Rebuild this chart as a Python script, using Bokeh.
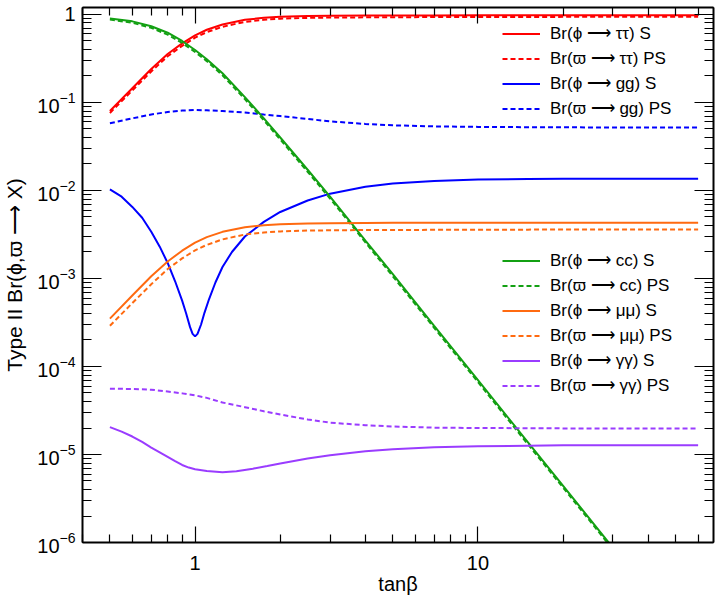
from bokeh.plotting import figure
from bokeh.models import Range1d, FixedTicker, LogAxis, LogTickFormatter, Legend, LegendItem
from bokeh.embed import file_html
from bokeh.resources import INLINE

# ---------------- data ----------------
TANB = [0.5, 0.6, 0.7, 0.8, 0.9, 1.0, 1.1, 1.25, 1.5, 1.75, 2.0, 2.5, 3.0, 4.0, 5.0, 7.0,
        10, 15, 20, 30, 40, 60]

TAUTAU_S = [0.080, 0.145, 0.240, 0.355, 0.470, 0.580, 0.670, 0.770, 0.870, 0.915, 0.940,
            0.960, 0.967, 0.972, 0.974, 0.976, 0.977, 0.978, 0.978, 0.978, 0.978, 0.978]
TAUTAU_PS = [0.076, 0.137, 0.225, 0.335, 0.440, 0.545, 0.630, 0.725, 0.825, 0.870, 0.895,
             0.915, 0.922, 0.928, 0.931, 0.934, 0.936, 0.938, 0.939, 0.940, 0.940, 0.940]
CC_S = [0.900, 0.835, 0.735, 0.620, 0.500, 0.395, 0.310, 0.215, 0.115, 0.066, 0.040,
        0.0172, 0.0085, 0.0027, 0.00112, 2.9e-4, 7.0e-5, 1.38e-5, 4.4e-6, 8.7e-7, 2.75e-7, 5.4e-8]
CC_PS = [0.875, 0.805, 0.705, 0.590, 0.475, 0.375, 0.295, 0.204, 0.109, 0.0627, 0.038,
         0.0163, 0.0081, 0.00257, 0.00106, 2.75e-4, 6.65e-5, 1.31e-5, 4.2e-6, 8.3e-7, 2.6e-7, 5.1e-8]
GG_PS = [0.058, 0.066, 0.073, 0.078, 0.081, 0.082, 0.0815, 0.080, 0.077, 0.073, 0.070,
         0.065, 0.061, 0.057, 0.055, 0.0535, 0.0528, 0.0524, 0.0522, 0.052, 0.052, 0.052]
MUMU_S = [3.5e-4, 6.4e-4, 1.06e-3, 1.56e-3, 2.07e-3, 2.55e-3, 2.95e-3, 3.39e-3, 3.83e-3,
          4.03e-3, 4.14e-3, 4.22e-3, 4.25e-3, 4.28e-3, 4.29e-3, 4.29e-3, 4.30e-3, 4.30e-3,
          4.30e-3, 4.30e-3, 4.30e-3, 4.30e-3]
MUMU_PS = [2.9e-4, 5.25e-4, 8.6e-4, 1.28e-3, 1.69e-3, 2.09e-3, 2.41e-3, 2.78e-3, 3.16e-3,
           3.33e-3, 3.43e-3, 3.50e-3, 3.53e-3, 3.55e-3, 3.56e-3, 3.57e-3, 3.58e-3, 3.59e-3,
           3.60e-3, 3.60e-3, 3.60e-3, 3.60e-3]
GAGA_PS = [5.6e-5, 5.55e-5, 5.45e-5, 5.2e-5, 4.95e-5, 4.7e-5, 4.4e-5, 3.9e-5, 3.45e-5,
           3.1e-5, 2.85e-5, 2.5e-5, 2.3e-5, 2.15e-5, 2.08e-5, 2.02e-5, 2.0e-5, 1.99e-5,
           1.98e-5, 1.98e-5, 1.98e-5, 1.98e-5]

TANB_GG = [0.5, 0.55, 0.6, 0.65, 0.7, 0.75, 0.8, 0.85, 0.9, 0.93, 0.96, 0.98, 1.0, 1.02,
           1.05, 1.08, 1.12, 1.18, 1.25, 1.35, 1.5, 1.75, 2.0, 2.5, 3.0, 4.0, 5.0, 7.0,
           10, 15, 20, 30, 40, 60]
GG_S = [0.0103, 0.0085, 0.0065, 0.0049, 0.0034, 0.0023, 0.0015, 9.3e-4, 5.6e-4, 4.0e-4,
        2.8e-4, 2.35e-4, 2.2e-4, 2.35e-4, 3.0e-4, 4.1e-4, 5.8e-4, 9.0e-4, 1.35e-3, 2.0e-3,
        3.0e-3, 4.4e-3, 5.7e-3, 7.7e-3, 9.2e-3, 1.1e-2, 1.2e-2, 1.28e-2, 1.33e-2, 1.35e-2,
        1.36e-2, 1.36e-2, 1.36e-2, 1.36e-2]

TANB_AA = [0.5, 0.55, 0.6, 0.65, 0.7, 0.75, 0.8, 0.85, 0.9, 0.95, 1.0, 1.1, 1.25, 1.4,
           1.6, 1.8, 2.0, 2.5, 3.0, 4.0, 5.0, 7.0, 10, 15, 20, 30, 40, 60]
GAGA_S = [2.05e-5, 1.82e-5, 1.6e-5, 1.39e-5, 1.2e-5, 1.06e-5, 9.4e-6, 8.4e-6, 7.6e-6,
          7.1e-6, 6.8e-6, 6.5e-6, 6.3e-6, 6.45e-6, 6.9e-6, 7.4e-6, 7.9e-6, 9.0e-6, 9.8e-6,
          1.09e-5, 1.15e-5, 1.21e-5, 1.24e-5, 1.26e-5, 1.27e-5, 1.27e-5, 1.27e-5, 1.27e-5]

X_MAJOR = [1, 10]
X_MAJOR_LABELS = ["1", "10"]
Y_MAJOR = [1e-6, 1e-5, 1e-4, 1e-3, 1e-2, 1e-1, 1]

LABELS_TOP = ["Br(ϕ ⟶ ττ) S", "Br(ϖ ⟶ ττ) PS", "Br(ϕ ⟶ gg) S", "Br(ϖ ⟶ gg) PS"]
LABELS_BOTTOM = ["Br(ϕ ⟶ cc) S", "Br(ϖ ⟶ cc) PS", "Br(ϕ ⟶ μμ) S", "Br(ϖ ⟶ μμ) PS",
                 "Br(ϕ ⟶ γγ) S", "Br(ϖ ⟶ γγ) PS"]

RED, BLUE, GREEN, ORANGE, PURPLE = "#ff0000", "#0000ff", "#13a013", "#ff6a10", "#9a3cff"
FONT = "Liberation Sans"
DASH = "5 3"
LW = 2

# ---------------- figure ----------------
x_minor = [m * 10.0 ** k for k in (-1, 0, 1) for m in range(2, 10)]
y_minor = [m * 10.0 ** k for k in range(-6, 0) for m in range(2, 10)]
xt = FixedTicker(ticks=X_MAJOR, minor_ticks=x_minor)
yt = FixedTicker(ticks=Y_MAJOR, minor_ticks=y_minor)

p = figure(width=720, height=597, x_axis_type="log", y_axis_type="log",
           x_range=Range1d(0.4, 68), y_range=Range1d(1e-6, 1.2),
           output_backend="svg", toolbar_location=None,
           min_border_left=79, min_border_right=7, min_border_top=7, min_border_bottom=55)
p.xgrid.visible = False
p.ygrid.visible = False
p.outline_line_color = "black"
p.outline_line_width = 1
p.background_fill_color = "white"
p.border_fill_color = "white"

xa = p.xaxis[0]
xa.ticker = xt
xa.major_label_overrides = {v: s for v, s in zip(X_MAJOR, X_MAJOR_LABELS)}
xa.axis_label = "tanβ"
ya = p.yaxis[0]
ya.ticker = yt
ya.formatter = LogTickFormatter()
ya.major_label_overrides = {1: "1"}
ya.axis_label = "Type II Br(ϕ,ϖ ⟶ X)"

top = LogAxis(ticker=xt)
right = LogAxis(ticker=yt)
p.add_layout(top, "above")
p.add_layout(right, "right")

for ax in (xa, top):
    ax.major_tick_in = 16
    ax.minor_tick_in = 8
for ax in (ya, right):
    ax.major_tick_in = 19
    ax.minor_tick_in = 9
for ax in (xa, ya, top, right):
    ax.major_tick_out = 0
    ax.minor_tick_out = 0
    ax.axis_line_width = 2
    ax.axis_line_color = "black"
    ax.major_tick_line_color = "black"
    ax.minor_tick_line_color = "black"
    ax.major_tick_line_width = 1.2
    ax.minor_tick_line_width = 1.2
    ax.major_label_text_font = FONT
    ax.axis_label_text_font = FONT
    ax.axis_label_text_font_style = "normal"
    ax.major_label_text_color = "black"
    ax.axis_label_text_color = "black"
for ax in (top, right):
    ax.major_label_text_font_size = "1px"
    ax.major_label_text_alpha = 0
    ax.major_label_standoff = 0

xa.major_label_text_font_size = "20px"
xa.major_label_standoff = 13
xa.axis_label_text_font_size = "20px"
xa.axis_label_standoff = 0
ya.major_label_text_font_size = "20px"
ya.major_label_standoff = 7
ya.axis_label_text_font_size = "21px"
ya.axis_label_standoff = 8

# ---------------- curves ----------------
r_tt_s = p.line(TANB, TAUTAU_S, line_color=RED, line_width=LW)
r_tt_ps = p.line(TANB, TAUTAU_PS, line_color=RED, line_width=LW, line_dash=DASH)
r_gg_s = p.line(TANB_GG, GG_S, line_color=BLUE, line_width=LW)
r_gg_ps = p.line(TANB, GG_PS, line_color=BLUE, line_width=LW, line_dash=DASH)
r_cc_s = p.line(TANB, CC_S, line_color=GREEN, line_width=LW)
r_cc_ps = p.line(TANB, CC_PS, line_color=GREEN, line_width=LW, line_dash=DASH)
r_mm_s = p.line(TANB, MUMU_S, line_color=ORANGE, line_width=LW)
r_mm_ps = p.line(TANB, MUMU_PS, line_color=ORANGE, line_width=LW, line_dash=DASH)
r_aa_s = p.line(TANB_AA, GAGA_S, line_color=PURPLE, line_width=LW)
r_aa_ps = p.line(TANB, GAGA_PS, line_color=PURPLE, line_width=LW, line_dash=DASH)


def make_legend(labels, renderers, loc):
    leg = Legend(items=[LegendItem(label=l, renderers=[r]) for l, r in zip(labels, renderers)],
                 location=loc, orientation="vertical",
                 label_text_font=FONT, label_text_font_size="17px", label_text_color="black",
                 glyph_width=38, glyph_height=25, label_height=25, label_standoff=10,
                 spacing=0, padding=0, margin=0,
                 border_line_alpha=0, background_fill_alpha=0)
    p.add_layout(leg)


make_legend(LABELS_TOP, [r_tt_s, r_tt_ps, r_gg_s, r_gg_ps], (420, 421))
make_legend(LABELS_BOTTOM, [r_cc_s, r_cc_ps, r_mm_s, r_mm_ps, r_aa_s, r_aa_ps], (420, 144))

open("out.html", "w").write(file_html(p, INLINE))
